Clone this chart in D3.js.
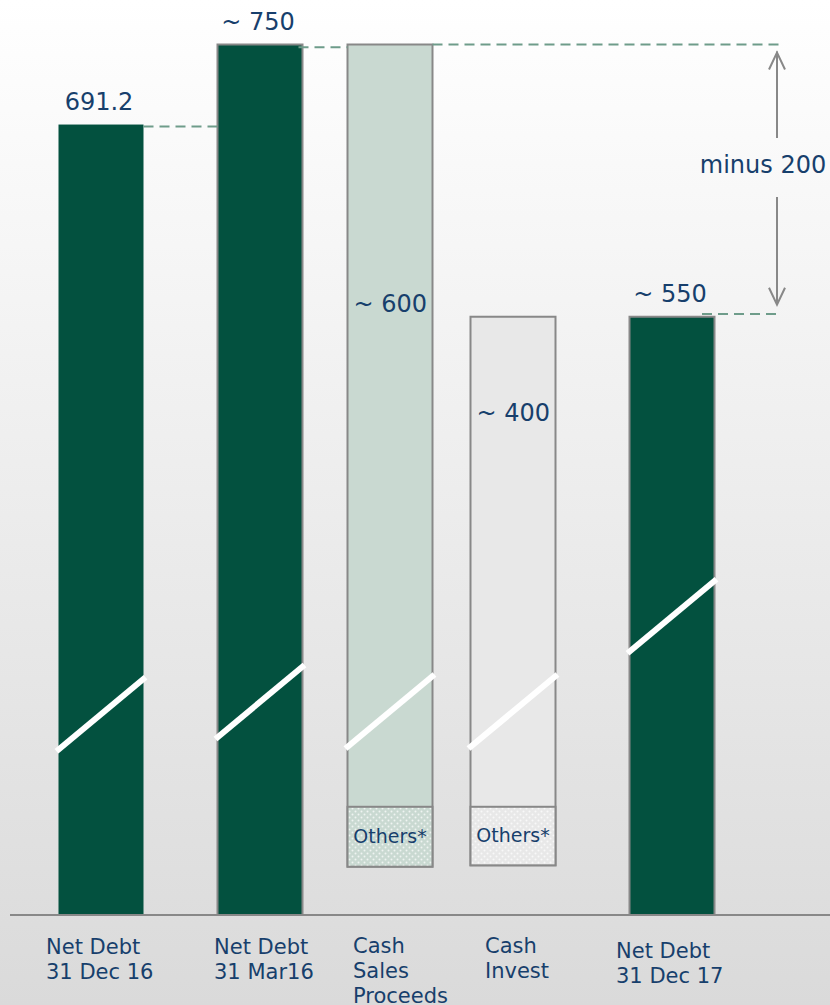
<!DOCTYPE html>
<html>
<head>
<meta charset="utf-8">
<script src="https://cdn.jsdelivr.net/npm/d3@7"></script>
<style>
  html, body { margin: 0; padding: 0; }
  svg { display: block; font-family: "DejaVu Sans", Verdana, sans-serif; }
</style>
</head>
<body>
<svg id="chart" width="830" height="1005"></svg>
<script>
// данные моста чистого долга
const categories = [
  ["Net Debt", "31 Dec 16"],
  ["Net Debt", "31 Mar16"],
  ["Cash", "Sales", "Proceeds"],
  ["Cash", "Invest"],
  ["Net Debt", "31 Dec 17"]
];
const barTop = [691.2, 750, 750, 550, 550];
const barBottom = [null, null, 146, 147, null];   // null = от оси
const othersTop = [null, null, 190, 190, null];
const valueLabels = ["691.2", "~ 750", "~ 600", "~ 400", "~ 550"];
const labelAt = [691.2, 750, 559, 479, 550];
const breakAt = [258, 267, 260, 260, 330];
const barKind = ["debt", "debt", "sales", "invest", "debt"];

const W = 830, H = 1005;
const svg = d3.select('#chart');

// шкалы
const y = d3.scaleLinear().domain([110.5, 750]).range([915, 44.5]);
const xCenter = d3.scaleOrdinal()
  .domain(d3.range(categories.length))
  .range([101, 260, 390, 513, 672]);
const barW = 85;

const fills = { debt: '#03513f', sales: '#c9d9d1', invest: '#e8e8e8' };
const textColor = '#173f6c';

// фон
const defs = svg.append('defs');
const grad = defs.append('linearGradient').attr('id', 'bg')
  .attr('x1', 0).attr('y1', 0).attr('x2', 0).attr('y2', 1);
grad.append('stop').attr('offset', '0%').attr('stop-color', '#ffffff');
grad.append('stop').attr('offset', '100%').attr('stop-color', '#dadada');
svg.append('rect').attr('width', W).attr('height', H).attr('fill', 'url(#bg)');

// узор для "Others"
function dots(id, base) {
  const p = defs.append('pattern').attr('id', id)
    .attr('patternUnits', 'userSpaceOnUse').attr('width', 6).attr('height', 6);
  p.append('rect').attr('width', 6).attr('height', 6).attr('fill', base);
  p.append('circle').attr('cx', 1.5).attr('cy', 1.5).attr('r', 1).attr('fill', '#fff').attr('opacity', 0.7);
  p.append('circle').attr('cx', 4.5).attr('cy', 4.5).attr('r', 1).attr('fill', '#fff').attr('opacity', 0.7);
}
dots('dotsSales', '#c9d9d1');
dots('dotsInvest', '#e8e8e8');

const idx = d3.range(categories.length);

// бары
svg.selectAll('rect.bar')
  .data(idx)
  .enter()
  .append('rect')
  .attr('class', 'bar')
  .attr('x', i => xCenter(i) - barW / 2)
  .attr('y', i => y(barTop[i]))
  .attr('width', barW)
  .attr('height', i => (barBottom[i] == null ? y.range()[0] : y(barBottom[i])) - y(barTop[i]))
  .attr('fill', i => fills[barKind[i]])
  .attr('stroke', i => i === 0 ? 'none' : '#888')
  .attr('stroke-width', 2);

// сегменты "Others"
const oth = idx.filter(i => othersTop[i] != null);
svg.selectAll('rect.others')
  .data(oth)
  .enter()
  .append('rect')
  .attr('class', 'others')
  .attr('x', i => xCenter(i) - barW / 2)
  .attr('y', i => y(othersTop[i]))
  .attr('width', barW)
  .attr('height', i => y(barBottom[i]) - y(othersTop[i]))
  .attr('fill', i => barKind[i] === 'sales' ? 'url(#dotsSales)' : 'url(#dotsInvest)')
  .attr('stroke', '#888')
  .attr('stroke-width', 2);

svg.selectAll('text.others')
  .data(oth)
  .enter()
  .append('text')
  .attr('class', 'others')
  .attr('x', i => xCenter(i))
  .attr('y', i => (y(othersTop[i]) + y(barBottom[i])) / 2 + 6)
  .attr('text-anchor', 'middle')
  .attr('font-size', 19)
  .attr('fill', textColor)
  .text('Others*');

// разрывы
svg.selectAll('line.brk')
  .data(idx)
  .enter()
  .append('line')
  .attr('class', 'brk')
  .attr('x1', i => xCenter(i) - barW / 2 - 2)
  .attr('x2', i => xCenter(i) + barW / 2 + 2)
  .attr('y1', i => y(breakAt[i]) + 37)
  .attr('y2', i => y(breakAt[i]) - 37)
  .attr('stroke', '#fff')
  .attr('stroke-width', 6);

// ось
svg.append('line')
  .attr('x1', 10).attr('x2', W)
  .attr('y1', y.range()[0]).attr('y2', y.range()[0])
  .attr('stroke', '#888').attr('stroke-width', 2);

// пунктирные соединители
const dash = '10,6';
const connectors = [
  { x1: xCenter(0) + barW / 2, x2: xCenter(1) - barW / 2, v: barTop[0] - 1.5 },
  { x1: xCenter(1) + barW / 2 - 4, x2: xCenter(2) - barW / 2, v: barTop[1] - 2 },
  { x1: xCenter(2) + barW / 2, x2: 780, v: barTop[2] },
  { x1: xCenter(4) + 30, x2: 782, v: barTop[4] + 2 }
];
svg.selectAll('line.conn')
  .data(connectors)
  .enter()
  .append('line')
  .attr('class', 'conn')
  .attr('x1', d => d.x1).attr('x2', d => d.x2)
  .attr('y1', d => y(d.v)).attr('y2', d => y(d.v))
  .attr('stroke', '#6e9c8a').attr('stroke-width', 2)
  .attr('stroke-dasharray', dash);

// стрелка "minus 200"
const ax = 777;
const arrow = svg.append('g').attr('stroke', '#888').attr('stroke-width', 2).attr('fill', 'none');
arrow.append('line').attr('x1', ax).attr('x2', ax).attr('y1', y(barTop[2]) + 7).attr('y2', 138);
arrow.append('path').attr('d', `M${ax - 8},${y(barTop[2]) + 25} L${ax},${y(barTop[2]) + 8} L${ax + 8},${y(barTop[2]) + 25}`);
arrow.append('line').attr('x1', ax).attr('x2', ax).attr('y1', 197).attr('y2', y(barTop[4]) - 12);
arrow.append('path').attr('d', `M${ax - 8},${y(barTop[4]) - 29} L${ax},${y(barTop[4]) - 12} L${ax + 8},${y(barTop[4]) - 29}`);
svg.append('text')
  .attr('x', 763).attr('y', 173)
  .attr('text-anchor', 'middle')
  .attr('font-size', 24)
  .attr('fill', textColor)
  .text('minus 200');

// подписи значений
svg.selectAll('text.val')
  .data(idx)
  .enter()
  .append('text')
  .attr('class', 'val')
  .attr('x', i => (barKind[i] === 'debt' ? xCenter(i) - 2 : xCenter(i) - barW / 2 + 6))
  .attr('y', i => y(labelAt[i]) - (barKind[i] === 'debt' ? 15 : -8))
  .attr('text-anchor', i => barKind[i] === 'debt' ? 'middle' : 'start')
  .attr('font-size', 24)
  .attr('fill', textColor)
  .text(i => valueLabels[i]);

// подписи категорий
const catX = [46, 214, 353, 485, 616];
const catY = [954, 954, 953, 953, 958];
const cat = svg.selectAll('text.cat')
  .data(idx)
  .enter()
  .append('text')
  .attr('class', 'cat')
  .attr('font-size', 21)
  .attr('fill', textColor);
cat.selectAll('tspan')
  .data(i => categories[i].map((t, k) => ({ t, k, i })))
  .enter()
  .append('tspan')
  .attr('x', d => catX[d.i])
  .attr('y', d => catY[d.i] + d.k * 25)
  .text(d => d.t);
</script>
</body>
</html>
